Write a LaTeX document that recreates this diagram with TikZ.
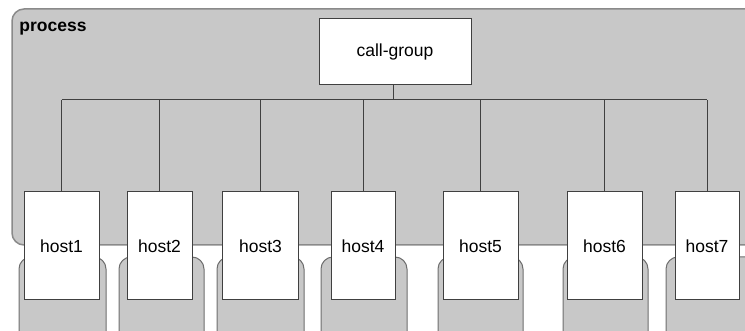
\documentclass[tikz,border=0pt]{standalone}
\usepackage{fontspec}
\setmainfont{Liberation Sans}
\definecolor{procgray}{HTML}{C8C8C8}
\definecolor{procline}{HTML}{8A8A8A}
\definecolor{boxline}{HTML}{404040}
\definecolor{podline}{HTML}{6E6E6E}

\begin{document}
\begin{tikzpicture}[x=1pt, y=-1pt, line width=1pt,
    host/.style={draw=boxline, fill=white, inner sep=0pt, outer sep=0pt,
        minimum height=108pt, font=\fontsize{17.5}{20}\selectfont},
    pod/.style={draw=podline, fill=procgray, rounded corners=12pt},
    wire/.style={draw=boxline}]
    \clip (0, 0) rectangle (745, 331);

    \draw[draw=procline, fill=procgray, line width=1.5pt, rounded corners=12pt] (12, 9) rectangle (775, 245);
    \node[anchor=base west, inner sep=0pt, font=\fontsize{17.5}{20}\selectfont\bfseries] (proc) at (19, 31.5) {process};

    \draw[pod] (19, 257) rectangle (106, 350);
    \draw[pod] (119, 257) rectangle (204, 350);
    \draw[pod] (217, 257) rectangle (304, 350);
    \draw[pod] (321, 257) rectangle (407, 350);
    \draw[pod] (438, 257) rectangle (523, 350);
    \draw[pod] (563, 257) rectangle (648, 350);
    \draw[pod] (666, 257) rectangle (775, 350);

    \node[host, minimum width=152pt, minimum height=66pt] (cg) at (395, 52) {call-group};

    \node[host, minimum width=75pt] (h1) at (61.5, 246) {host1};
    \node[host, minimum width=65pt] (h2) at (159.5, 246) {host2};
    \node[host, minimum width=76pt] (h3) at (260.5, 246) {host3};
    \node[host, minimum width=64pt] (h4) at (363, 246) {host4};
    \node[host, minimum width=75pt] (h5) at (480.5, 246) {host5};
    \node[host, minimum width=75pt] (h6) at (604.5, 246) {host6};
    \node[host, minimum width=64pt] (h7) at (707, 246) {host7};

    \coordinate (bus) at (0, 100);
    \draw[wire] (cg.south -| 393, 0) -- (393, 0 |- bus);
    \draw[wire] (h1.north |- bus) -- (h7.north |- bus);
    \draw[wire] (h1.north) -- (h1.north |- bus);
    \draw[wire] (h2.north) -- (h2.north |- bus);
    \draw[wire] (h3.north) -- (h3.north |- bus);
    \draw[wire] (h4.north) -- (h4.north |- bus);
    \draw[wire] (h5.north) -- (h5.north |- bus);
    \draw[wire] (h6.north) -- (h6.north |- bus);
    \draw[wire] (h7.north) -- (h7.north |- bus);

\end{tikzpicture}
\end{document}
